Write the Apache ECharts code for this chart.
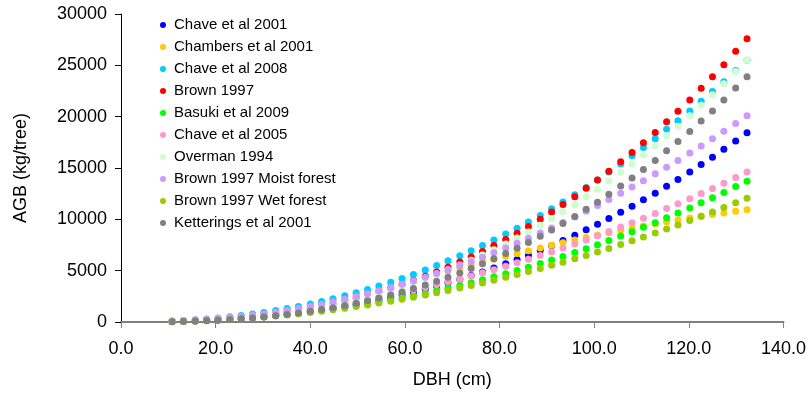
<!DOCTYPE html>
<html>
<head>
<meta charset="utf-8">
<title>AGB vs DBH</title>
<script src="https://cdn.jsdelivr.net/npm/echarts@6/dist/echarts.min.js"></script>
<style>
    html, body { margin: 0; padding: 0; background: #fff; }
    #main { width: 809px; height: 394px; }
</style>
</head>
<body>
<div id="main"></div>
<script>
// DBH (cm) of every point
const dbh = [10.8, 13.2, 15.7, 18.1, 20.5, 23.0, 25.4, 27.8, 30.2, 32.7, 35.1, 37.5, 40.0, 42.4, 44.8, 47.3, 49.7, 52.1, 54.5, 57.0,
    59.4, 61.8, 64.3, 66.7, 69.1, 71.6, 74.0, 76.4, 78.8, 81.3, 83.7, 86.1, 88.6, 91.0, 93.4, 95.9, 98.3, 100.7, 103.1, 105.6,
    108.0, 110.4, 112.9, 115.3, 117.7, 120.2, 122.6, 125.0, 127.4, 129.9, 132.3]

// AGB (kg/tree), one list per equation
const chave2001 = [43, 70, 106, 150, 202, 267, 340, 423, 517, 626, 743, 871, 1019, 1174, 1341, 1531, 1725, 1931, 2154, 2402,
    2652, 2922, 3219, 3512, 3831, 4171, 4519, 4881, 5261, 5670, 6082, 6510, 6982, 7458, 7943, 8451, 8982, 9519, 10087, 10689,
    11271, 11896, 12544, 13227, 13891, 14604, 15336, 16058, 16815, 17641, 18435]
const chambers2001 = [58, 100, 160, 234, 325, 439, 567, 711, 873, 1056, 1250, 1455, 1686, 1918, 2160, 2423, 2686, 2948, 3223, 3516,
    3797, 4081, 4385, 4666, 4964, 5250, 5536, 5825, 6106, 6393, 6661, 6933, 7208, 7473, 7724, 7975, 8233, 8468, 8691, 8929,
    9127, 9339, 9557, 9759, 9947, 10127, 10301, 10467, 10626, 10797, 10927]
const chave2008 = [93, 146, 216, 296, 391, 506, 633, 774, 933, 1113, 1305, 1513, 1749, 1992, 2253, 2550, 2844, 3162, 3498, 3866,
    4239, 4638, 5069, 5497, 5961, 6445, 6940, 7458, 7991, 8570, 9136, 9730, 10384, 11037, 11696, 12394, 13108, 13835, 14604, 15398,
    16187, 17000, 17854, 18770, 19613, 20557, 21504, 22449, 23411, 24489, 25489]
const brown1997 = [49, 81, 126, 180, 246, 330, 425, 533, 657, 803, 961, 1136, 1338, 1550, 1781, 2047, 2317, 2610, 2925, 3278,
    3637, 4024, 4452, 4876, 5340, 5837, 6342, 6877, 7443, 8047, 8656, 9293, 10006, 10711, 11441, 12210, 13017, 13822, 14692, 15615,
    16498, 17448, 18453, 19497, 20517, 21634, 22766, 23885, 25059, 26370, 27583]
const basuki2009 = [56, 87, 127, 174, 228, 294, 366, 446, 535, 637, 744, 860, 992, 1127, 1272, 1435, 1599, 1772, 1957, 2158,
    2361, 2579, 2816, 3047, 3298, 3562, 3831, 4109, 4398, 4708, 5019, 5335, 5688, 6033, 6387, 6762, 7144, 7533, 7943, 8366,
    8787, 9219, 9672, 10158, 10615, 11114, 11614, 12100, 12620, 13187, 13711]
const chave2005 = [90, 136, 193, 258, 331, 418, 512, 615, 728, 855, 987, 1129, 1288, 1448, 1620, 1812, 2000, 2202, 2411, 2641,
    2873, 3115, 3378, 3634, 3909, 4197, 4487, 4789, 5100, 5432, 5762, 6100, 6471, 6830, 7201, 7593, 7991, 8383, 8804, 9246,
    9662, 10107, 10572, 11048, 11510, 12016, 12506, 13004, 13508, 14073, 14604]
const overman1994 = [51, 83, 128, 182, 248, 330, 423, 529, 650, 792, 944, 1112, 1306, 1510, 1730, 1984, 2242, 2517, 2816, 3149,
    3488, 3851, 4252, 4652, 5085, 5547, 6021, 6522, 7045, 7608, 8176, 8760, 9414, 10066, 10743, 11453, 12197, 12939, 13739, 14575,
    15398, 16268, 17171, 18142, 19072, 20091, 21120, 22136, 23202, 24392, 25489]
const brownMoist = [49, 90, 148, 218, 302, 405, 519, 647, 789, 952, 1124, 1309, 1518, 1733, 1962, 2216, 2474, 2747, 3034, 3348,
    3665, 3995, 4355, 4714, 5089, 5493, 5897, 6314, 6746, 7211, 7672, 8148, 8658, 9163, 9682, 10238, 10786, 11348, 11925, 12541,
    13147, 13767, 14429, 15078, 15742, 16449, 17142, 17849, 18571, 19338, 20088]
const brownWet = [33, 58, 95, 138, 190, 253, 322, 400, 486, 585, 689, 801, 927, 1057, 1195, 1348, 1504, 1668, 1840, 2029,
    2219, 2418, 2634, 2850, 3074, 3317, 3559, 3809, 4068, 4347, 4624, 4908, 5214, 5517, 5827, 6160, 6488, 6825, 7170, 7539,
    7902, 8273, 8669, 9057, 9454, 9877, 10292, 10715, 11146, 11605, 12054]
const ketterings2001 = [34, 57, 90, 130, 180, 244, 317, 401, 498, 613, 738, 878, 1040, 1211, 1398, 1615, 1837, 2078, 2338, 2631,
    2928, 3252, 3612, 3968, 4359, 4779, 5208, 5665, 6149, 6668, 7194, 7739, 8350, 8964, 9595, 10270, 10971, 11672, 12432, 13240,
    14031, 14854, 15741, 16680, 17571, 18565, 19574, 20557, 21612, 22788, 23885]

const seriesNames = ['Chave et al 2001', 'Chambers et al 2001', 'Chave et al 2008', 'Brown 1997', 'Basuki et al 2009',
    'Chave et al 2005', 'Overman 1994', 'Brown 1997 Moist forest', 'Brown 1997 Wet forest', 'Ketterings et al 2001']
const seriesValues = [chave2001, chambers2001, chave2008, brown1997, basuki2009,
    chave2005, overman1994, brownMoist, brownWet, ketterings2001]
const seriesColors = ['#0000FF', '#FFCC00', '#00CCFF', '#FF0000', '#00FF00',
    '#FF99CC', '#CCFFCC', '#CC99FF', '#99CC00', '#808080']

const font = "'Liberation Sans', Arial, sans-serif"

const chart = echarts.init(document.getElementById('main'), null, {renderer: 'canvas'})

const option = {
    animation: false,
    color: seriesColors,
    textStyle: {fontFamily: font},
    grid: {
        left: 121,
        right: 24,
        top: 14,
        bottom: 71,
    },
    legend: {
        orient: 'vertical',
        left: 155,
        top: 12,
        icon: 'circle',
        itemWidth: 12,
        itemHeight: 6,
        itemGap: 6,
        textStyle: {
            fontFamily: font,
            fontSize: 15,
            lineHeight: 16,
            color: '#000',
        },
        data: seriesNames,
    },
    xAxis: {
        type: 'value',
        min: 0,
        max: 140,
        interval: 20,
        name: 'DBH (cm)',
        nameLocation: 'middle',
        nameGap: 49,
        nameTextStyle: {fontFamily: font, fontSize: 18, color: '#000'},
        splitLine: {show: false},
        axisLine: {lineStyle: {color: '#808080', width: 2}},
        axisTick: {show: true, length: 6, lineStyle: {color: '#808080', width: 1}},
        axisLabel: {
            fontFamily: font,
            fontSize: 18,
            color: '#000',
            margin: 18,
            formatter: v => v.toFixed(1),
        },
    },
    yAxis: {
        type: 'value',
        min: 0,
        max: 30000,
        interval: 5000,
        name: 'AGB (kg/tree)',
        nameLocation: 'middle',
        nameGap: 91,
        nameTextStyle: {fontFamily: font, fontSize: 18, color: '#000'},
        splitLine: {show: false},
        axisLine: {show: true, lineStyle: {color: '#000', width: 1}},
        axisTick: {show: true, length: 6, lineStyle: {color: '#000'}},
        axisLabel: {
            fontFamily: font,
            fontSize: 18,
            color: '#000',
            margin: 14,
            formatter: v => String(v),
        },
    },
    series: [],
}

for (let i = 0; i < seriesNames.length; i++) {
    option.series.push({
        name: seriesNames[i],
        type: 'scatter',
        symbol: 'circle',
        symbolSize: 7,
        itemStyle: {color: seriesColors[i], opacity: 1},
        data: dbh.map((d, k) => [d, seriesValues[i][k]]),
    })
}

chart.setOption(option)
</script>
</body>
</html>
